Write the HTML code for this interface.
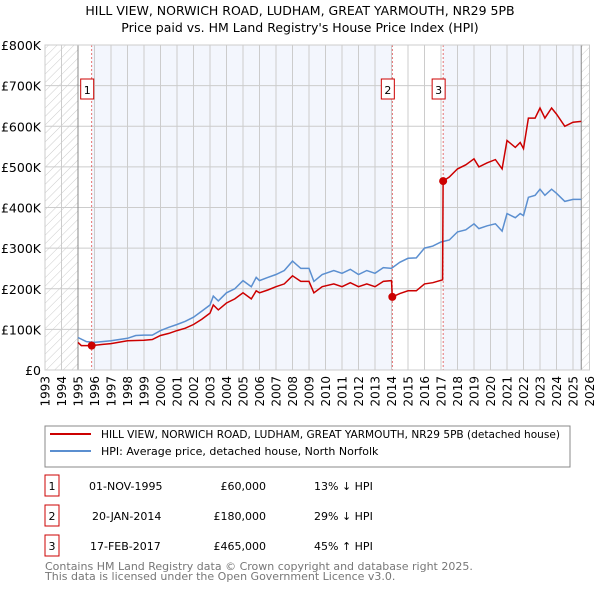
<!DOCTYPE html>
<html><head><meta charset="utf-8"><style>
body{margin:0;background:#fff;font-family:"Liberation Sans","DejaVu Sans",sans-serif;}
svg text{font-family:"DejaVu Sans","Liberation Sans",sans-serif;}
</style></head><body>
<svg id="c" width="600" height="590" xmlns="http://www.w3.org/2000/svg">
<defs><pattern id="hatch" width="6" height="6" patternUnits="userSpaceOnUse" patternTransform="rotate(45)"><line x1="0" y1="0" x2="0" y2="6" stroke="#ccc" stroke-width="1"/></pattern></defs>
<text x="300" y="15" text-anchor="middle" font-size="12.5">HILL VIEW, NORWICH ROAD, LUDHAM, GREAT YARMOUTH, NR29 5PB</text>
<text x="300" y="32" text-anchor="middle" font-size="12.5">Price paid vs. HM Land Registry's House Price Index (HPI)</text>
<g id="plot"></g>
<rect x="45" y="426" width="525" height="41" fill="#fff" stroke="#888"/>
<line x1="50" y1="434" x2="91" y2="434" stroke="#cc0000" stroke-width="2"/>
<text x="101" y="438" font-size="11" textLength="459" lengthAdjust="spacingAndGlyphs">HILL VIEW, NORWICH ROAD, LUDHAM, GREAT YARMOUTH, NR29 5PB (detached house)</text>
<line x1="50" y1="451" x2="91" y2="451" stroke="#5b8fd0" stroke-width="2"/>
<text x="101" y="455" font-size="11">HPI: Average price, detached house, North Norfolk</text>
<g font-size="11">
<rect x="45" y="475" width="14" height="21" fill="none" stroke="#cc0000"/><text x="52" y="490" text-anchor="middle">1</text>
<text x="89" y="490">01-NOV-1995</text><text x="266" y="490" text-anchor="end">£60,000</text><text x="314" y="490">13% ↓ HPI</text>
<rect x="45" y="505" width="14" height="21" fill="none" stroke="#cc0000"/><text x="52" y="520" text-anchor="middle">2</text>
<text x="92" y="520">20-JAN-2014</text><text x="266" y="520" text-anchor="end">£180,000</text><text x="314" y="520">29% ↓ HPI</text>
<rect x="45" y="535" width="14" height="21" fill="none" stroke="#cc0000"/><text x="52" y="550" text-anchor="middle">3</text>
<text x="90" y="550">17-FEB-2017</text><text x="266" y="550" text-anchor="end">£465,000</text><text x="314" y="550">45% ↑ HPI</text>
</g>
<text x="45" y="570" font-size="11" fill="#777">Contains HM Land Registry data © Crown copyright and database right 2025.</text>
<text x="45" y="580" font-size="11" fill="#777">This data is licensed under the Open Government Licence v3.0.</text>
</svg>
<script>
const hpiYears=[1995,1995.5,1996,1997,1998,1998.5,1999,1999.5,2000,2000.5,2001,2001.5,2002,2002.5,2003,2003.2,2003.5,2004,2004.5,2005,2005.5,2005.8,2006,2006.5,2007,2007.5,2008,2008.5,2009,2009.3,2009.8,2010.5,2011,2011.5,2012,2012.5,2013,2013.5,2014,2014.5,2015,2015.5,2016,2016.5,2017,2017.5,2018,2018.5,2019,2019.3,2019.8,2020.3,2020.7,2021,2021.5,2021.8,2022,2022.3,2022.7,2023,2023.3,2023.7,2024,2024.5,2025,2025.5];
const hpiValues=[80,70,68,72,78,85,86,86,97,105,112,120,130,145,160,182,170,190,200,220,205,228,220,228,235,245,268,250,250,218,235,245,238,248,235,245,238,252,250,265,275,276,300,305,315,320,340,345,360,348,355,360,342,385,375,385,380,425,430,445,430,445,435,415,420,420];
const redYears=[1995,1995.2,1995.83,1996.5,1997,1998,1999,1999.5,2000,2000.5,2001,2001.5,2002,2002.5,2003,2003.2,2003.5,2004,2004.5,2005,2005.5,2005.8,2006,2006.5,2007,2007.5,2008,2008.5,2009,2009.3,2009.8,2010.5,2011,2011.5,2012,2012.5,2013,2013.5,2014.0,2014.05,2014.5,2015,2015.5,2016,2016.5,2017.1,2017.13,2017.5,2018,2018.5,2019,2019.3,2019.8,2020.3,2020.7,2021,2021.5,2021.8,2022,2022.3,2022.7,2023,2023.3,2023.7,2024,2024.5,2025,2025.5];
const redValues=[68,60,60,63,65,72,73,75,85,90,97,103,112,125,140,160,148,165,175,190,175,195,190,197,205,212,232,218,218,190,205,212,205,215,205,212,205,218,220,180,188,195,195,212,215,222,465,475,495,505,520,500,510,518,495,565,548,560,545,620,620,645,620,645,630,600,610,612];
const saleYears=[1995.83,2014.05,2017.13];
const salePrices=[60,180,465];
const saleLabels=["1","2","3"];
const yTicks=[0,100,200,300,400,500,600,700,800];
const yTickLabels=["£0","£100K","£200K","£300K","£400K","£500K","£600K","£700K","£800K"];
const xTicks=[];for(let y=1993;y<=2026;y++)xTicks.push(y);

const X0=45,X1=589.5,Y0=370,Y1=45;
const xs=y=>X0+(y-1993)*(X1-X0)/33;
const ys=v=>Y0-v*(Y0-Y1)/800;
const NS="http://www.w3.org/2000/svg";
const g=document.getElementById('plot');
function mk(t,a,p){const e=document.createElementNS(NS,t);for(const k in a)e.setAttribute(k,a[k]);(p||g).appendChild(e);return e;}
let e=mk('rect',{x:xs(1995.83),y:Y1,width:xs(2014.05)-xs(1995.83),height:Y0-Y1,fill:'#f3f6fd'});


e=mk('rect',{x:xs(2017.13),y:Y1,width:xs(2025.5)-xs(2017.13),height:Y0-Y1,fill:'#f3f6fd'});


e=mk('rect',{x:X0,y:Y1,width:xs(1995)-X0,height:Y0-Y1,fill:'url(#hatch)'});


e=mk('rect',{x:xs(2025.5),y:Y1,width:X1-xs(2025.5),height:Y0-Y1,fill:'url(#hatch)'});


yTicks.forEach((v,i)=>{
 const l=mk('line',{x1:X0,x2:X1,y1:ys(v),y2:ys(v),stroke:'#ccc','stroke-width':1});
 
 
 const t=mk('text',{x:X0-4,y:ys(v)+5,'text-anchor':'end','font-size':12.5});
 t.textContent=yTickLabels[i];
 
 
});
xTicks.forEach(y=>{
 const l=mk('line',{x1:xs(y),x2:xs(y),y1:Y1,y2:Y0,stroke:'#ccc','stroke-width':1});
 
 
 const t=mk('text',{x:0,y:0,'text-anchor':'end','font-size':12,transform:`translate(${xs(y)+4.5},376) rotate(-90)`});
 t.textContent=y;
 
 
});
e=mk('line',{x1:xs(1995),x2:xs(1995),y1:Y1,y2:Y0,stroke:'#888'});


e=mk('line',{x1:xs(2025.5),x2:xs(2025.5),y1:Y1,y2:Y0,stroke:'#888'});


saleYears.forEach((y,i)=>{
 const l=mk('line',{x1:xs(y),x2:xs(y),y1:Y1,y2:Y0,stroke:'#e05050','stroke-width':0.8,'stroke-dasharray':'2,2'});
 
 
 const r=mk('rect',{x:xs(y)-11,y:79,width:13,height:20,fill:'#fff',stroke:'#cc0000'});
 
 
 const t=mk('text',{x:xs(y)-4.5,y:94,'text-anchor':'middle','font-size':11});
 t.textContent=saleLabels[i];
 
 
});
const pts=(a,b)=>a.map((y,i)=>xs(y).toFixed(1)+','+ys(b[i]).toFixed(1)).join(' ');
e=mk('polyline',{points:pts(hpiYears,hpiValues),fill:'none',stroke:'#5b8fd0','stroke-width':1.5});


e=mk('polyline',{points:pts(redYears,redValues),fill:'none',stroke:'#cc0000','stroke-width':1.5});


saleYears.forEach((y,i)=>{
 const c=mk('circle',{cx:xs(y),cy:ys(salePrices[i]),r:4,fill:'#cc0000'});
 
 
});
e=mk('rect',{x:X0,y:Y1,width:X1-X0,height:Y0-Y1,fill:'none',stroke:'#ccc'});


</script>
</body></html>
